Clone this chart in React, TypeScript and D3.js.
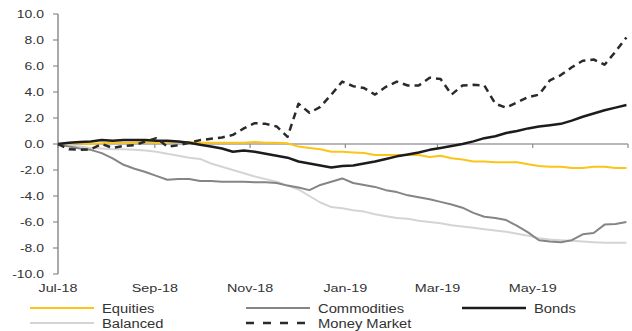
import React from "react";
import * as d3 from "d3";

// weekly observations, Jul-18 to Jun-19 (% return)
const startDate = new Date(2018, 6, 1);
const endDate = new Date(2019, 6, 1);

const equities = [
  0, 0.05, 0.05, 0.0, 0.05, 0.1, 0.1, 0.1, 0.15, 0.1, 0.15, 0.15, 0.15, 0.1,
  0.1, 0.1, 0.1, 0.1, 0.15, 0.1, 0.1, 0.05, -0.2, -0.3, -0.4, -0.6, -0.6,
  -0.65, -0.7, -0.85, -0.85, -0.85, -0.85, -0.85, -1.0, -0.9, -1.1, -1.2,
  -1.35, -1.35, -1.4, -1.4, -1.4, -1.55, -1.7, -1.75, -1.75, -1.85, -1.85,
  -1.75, -1.75, -1.85, -1.85,
];
const commodities = [
  0, -0.2, -0.35, -0.45, -0.7, -1.1, -1.6, -1.9, -2.15, -2.45, -2.75, -2.7,
  -2.7, -2.85, -2.85, -2.9, -2.9, -2.9, -2.95, -2.95, -3.0, -3.2, -3.35, -3.55,
  -3.15, -2.9, -2.65, -3.0, -3.15, -3.3, -3.55, -3.7, -3.95, -4.1, -4.25,
  -4.45, -4.65, -4.9, -5.3, -5.6, -5.7, -5.85, -6.3, -6.8, -7.4, -7.5, -7.55,
  -7.4, -6.95, -6.85, -6.2, -6.15, -6.0,
];
const bonds = [
  0, 0.1, 0.15, 0.2, 0.3, 0.25, 0.3, 0.3, 0.3, 0.25, 0.25, 0.2, 0.1, -0.05,
  -0.2, -0.35, -0.6, -0.5, -0.6, -0.75, -0.9, -1.05, -1.35, -1.5, -1.65, -1.8,
  -1.7, -1.65, -1.5, -1.35, -1.15, -0.95, -0.8, -0.65, -0.45, -0.3, -0.15, 0.0,
  0.2, 0.45, 0.6, 0.85, 1.0, 1.2, 1.35, 1.45, 1.55, 1.8, 2.1, 2.35, 2.6, 2.8,
  3.0,
];
const balanced = [
  0, -0.1, -0.2, -0.3, -0.35, -0.4, -0.4, -0.45, -0.5, -0.6, -0.75, -0.9,
  -1.05, -1.15, -1.5, -1.75, -2.0, -2.25, -2.5, -2.7, -2.9, -3.2, -3.5, -4.0,
  -4.5, -4.85, -4.95, -5.1, -5.2, -5.4, -5.55, -5.7, -5.75, -5.9, -6.0, -6.1,
  -6.25, -6.35, -6.45, -6.55, -6.65, -6.75, -6.9, -7.05, -7.25, -7.35, -7.4,
  -7.45, -7.5, -7.55, -7.6, -7.6, -7.6,
];
const moneyMarket = [
  0, -0.4, -0.45, -0.4, 0.0, -0.3, -0.15, -0.1, 0.2, 0.45, -0.2, -0.1, 0.1,
  0.3, 0.4, 0.5, 0.7, 1.2, 1.6, 1.55, 1.35, 0.55, 3.1, 2.4, 2.85, 3.8, 4.8,
  4.45, 4.3, 3.8, 4.4, 4.8, 4.5, 4.5, 5.1, 5.0, 3.8, 4.5, 4.55, 4.5, 3.1, 2.8,
  3.2, 3.6, 3.8, 4.9, 5.3, 5.9, 6.4, 6.5, 6.1, 7.1, 8.2,
];

const yTicks = [10, 8, 6, 4, 2, 0, -2, -4, -6, -8, -10];
const tickFormat = d3.timeFormat("%b-%y");

const W = 632;
const H = 331;
const FONT = "'Liberation Sans', Arial, Helvetica, sans-serif";

const dates = d3.timeWeek.range(startDate, endDate).slice(0, equities.length);

const x = d3.scaleTime().domain([startDate, endDate]).range([58, 628]);
const y = d3.scaleLinear().domain([-10, 10]).range([274, 14]);

const series = [
  { name: "Balanced", values: balanced, color: "#d4d4d4", width: 2, dash: "" },
  { name: "Commodities", values: commodities, color: "#858585", width: 2, dash: "" },
  { name: "Equities", values: equities, color: "#fcc419", width: 2, dash: "" },
  { name: "Bonds", values: bonds, color: "#1c1c1c", width: 2.5, dash: "" },
  { name: "Money Market", values: moneyMarket, color: "#2a2a2a", width: 2.5, dash: "7,5" },
];

// legend order as in the source
const legendRows = [
  ["Equities", "Commodities", "Bonds"],
  ["Balanced", "Money Market"],
];
const legendCols = [30, 246, 462];

const line = d3
  .line<number>()
  .x((_, i) => x(dates[i]))
  .y(d => y(d));

export default function App() {
  const months = d3.timeMonth.every(2)!.range(startDate, d3.timeDay.offset(endDate, 1));

  return (
    <svg
      width={W}
      height={H}
      style={{ position: "absolute", left: 0, top: 0, background: "#fff" }}
    >
      {/* y axis */}
      <line x1={58} x2={58} y1={y(10)} y2={y(-10)} stroke="#8c8c8c" strokeWidth={1.5} />
      {yTicks.map(t => (
        <g key={t}>
          <line x1={53} x2={58} y1={y(t)} y2={y(t)} stroke="#8c8c8c" strokeWidth={1.2} />
          <text
            transform={`translate(44, ${y(t) + 4}) scale(1.33, 1)`}
            textAnchor="end"
            fontFamily={FONT}
            fontSize={10.5}
            fill="#333"
          >
            {t.toFixed(1)}
          </text>
        </g>
      ))}

      {/* x axis at zero */}
      <line x1={58} x2={628} y1={y(0)} y2={y(0)} stroke="#a0a0a0" strokeWidth={1.5} />
      {months.map((m, i) => (
        <g key={i}>
          <line x1={x(m)} x2={x(m)} y1={y(0)} y2={y(0) + 4} stroke="#8c8c8c" strokeWidth={1.2} />
          {i < months.length - 1 && (
            <text
              transform={`translate(${x(m)}, 292) scale(1.25, 1)`}
              textAnchor="middle"
              fontFamily={FONT}
              fontSize={11.5}
              fill="#333"
            >
              {tickFormat(m)}
            </text>
          )}
        </g>
      ))}

      {/* series */}
      {series.map(s => (
        <path
          key={s.name}
          d={line(s.values) || ""}
          fill="none"
          stroke={s.color}
          strokeWidth={s.width}
          strokeDasharray={s.dash}
          strokeLinejoin="round"
        />
      ))}

      {/* legend */}
      {legendRows.map((row, r) =>
        row.map((name, c) => {
          const s = series.find(d => d.name === name)!;
          const ly = 308 + r * 15;
          const lx = legendCols[c];
          return (
            <g key={name}>
              <line
                x1={lx}
                x2={lx + 64}
                y1={ly}
                y2={ly}
                stroke={s.color}
                strokeWidth={s.width}
                strokeDasharray={s.dash ? "8,9" : ""}
              />
              <text
                transform={`translate(${lx + 72}, ${ly + 4.5}) scale(1.23, 1)`}
                fontFamily={FONT}
                fontSize={12}
                fill="#333"
              >
                {name}
              </text>
            </g>
          );
        })
      )}
    </svg>
  );
}
